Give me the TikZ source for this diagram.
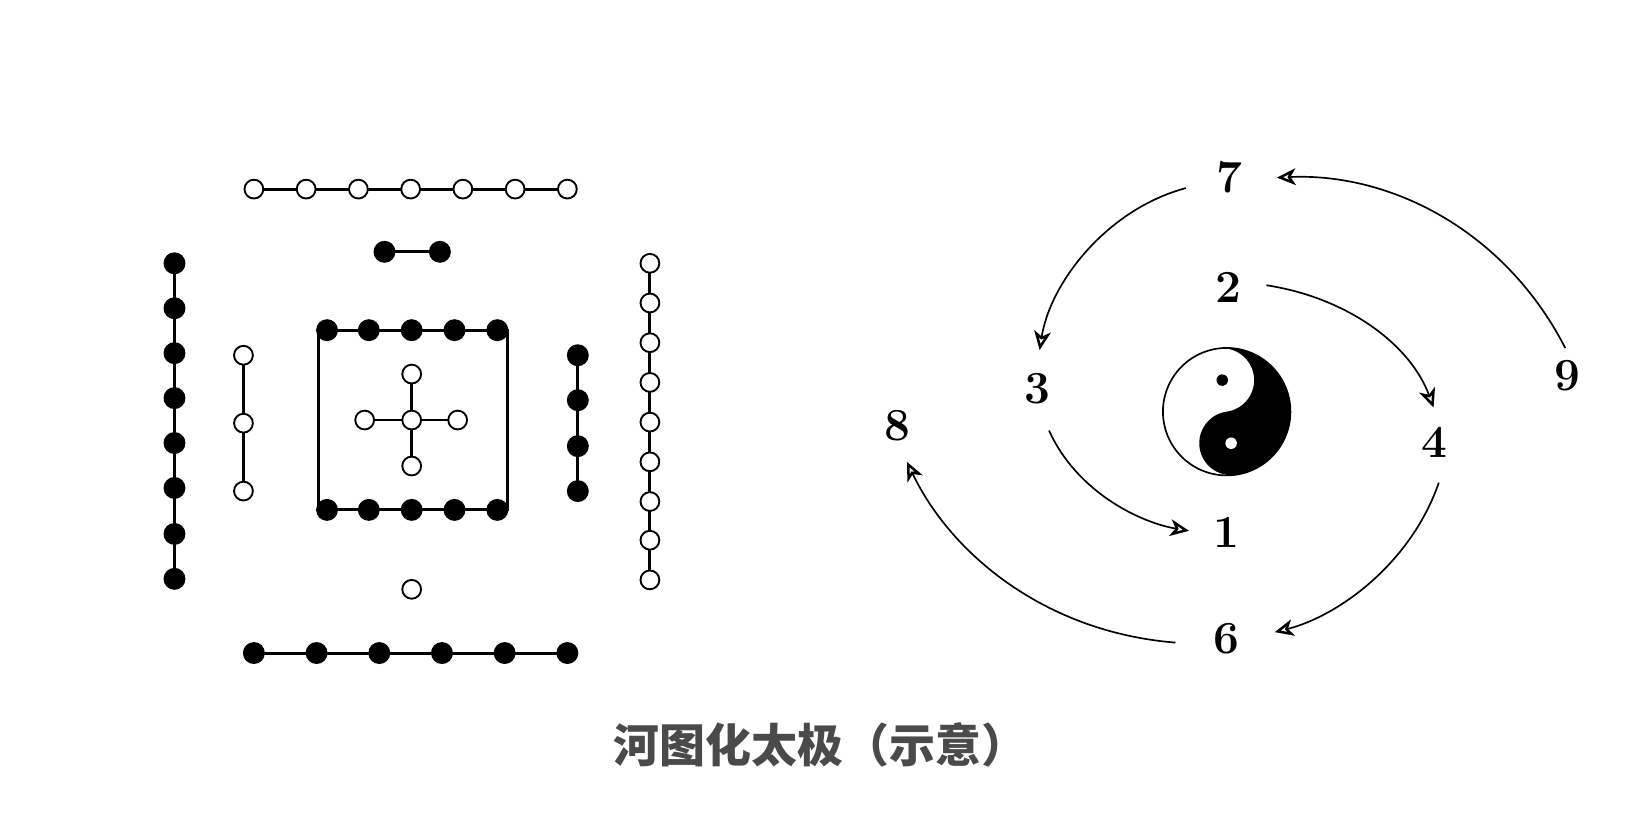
\documentclass[tikz,border=0pt]{standalone}
\usepackage{fontspec}
\newfontfamily\cjk{Noto Sans CJK SC}
\usetikzlibrary{arrows.meta}
\definecolor{titlegray}{HTML}{4A4A4A}
\begin{document}
\begin{tikzpicture}[x=0.5pt,y=-0.5pt,
  ln/.style={line width=1.4pt},
  wd/.style={circle,draw,line width=0.9pt,fill=white,minimum size=9pt,inner sep=0pt},
  bd/.style={circle,fill=black,minimum size=10.5pt,inner sep=0pt},
  num/.style={font=\fontsize{22}{24}\selectfont\bfseries},
  arr/.style={line width=0.8pt,-{Stealth[open,length=9pt,width=8pt,inset=2.5pt,line width=1.2pt]}}]
\useasboundingbox (0,0) rectangle (1560,785);
% top open row
\draw[ln] (243,181) -- (543,181);
\foreach \x [count=\i] in {243,293,343,393,443,493,543} \node[wd] (t\i) at (\x,181) {};
% pair
\draw[ln] (368,241) -- (421,241);
\node[bd] (p1) at (368,241) {}; \node[bd] (p2) at (421,241) {};
% left filled column
\draw[ln] (167,252) -- (167,554);
\foreach \y [count=\i] in {252,295,338,381,424,467,511,554} \node[bd] (l\i) at (167,\y) {};
% small open column
\draw[ln] (233,340) -- (233,470);
\foreach \y [count=\i] in {340,405,470} \node[wd] (s\i) at (233,\y) {};
% square
\draw[ln] (305,316) rectangle (486,488);
\foreach \x [count=\i] in {313,353,394,435,476} {\node[bd] (qa\i) at (\x,316) {}; \node[bd] (qb\i) at (\x,488) {};}
% cross
\draw[ln] (394,358) -- (394,446) (349,402) -- (438,402);
\node[wd] (c0) at (394,402) {};
\node[wd] (c1) at (394,358) {}; \node[wd] (c2) at (394,446) {};
\node[wd] (c3) at (349,402) {}; \node[wd] (c4) at (438,402) {};
% right filled column
\draw[ln] (553,340) -- (553,470);
\foreach \y [count=\i] in {340,383,427,470} \node[bd] (r\i) at (553,\y) {};
% right open column
\draw[ln] (622,252) -- (622,555);
\foreach \y [count=\i] in {252,290,328,366,404,442,480,517,555} \node[wd] (o\i) at (622,\y) {};
% single
\node[wd] (b0) at (394,564) {};
% bottom filled row
\draw[ln] (243,625) -- (543,625);
\foreach \x [count=\i] in {243,303,363,423,483,543} \node[bd] (f\i) at (\x,625) {};
% yin-yang
\begin{scope}[shift={(1174,394)},yscale=-1,rotate=-8]
\fill[black] (0,61) arc[start angle=90,end angle=-90,radius=61]
  arc[start angle=270,end angle=90,radius=30.5]
  arc[start angle=270,end angle=450,radius=30.5] -- cycle;
\draw[line width=0.8pt] (0,0) circle[radius=61];
\fill[black] (0,30.5) circle[radius=5.5];
\fill[white] (0,-30.5) circle[radius=5.5];
\end{scope}
\node[circle,minimum size=61pt,inner sep=0pt] (yy) at (1174,394) {};
% numbers
\node[num] (n7) at (1177,170) {7};
\node[num] (n2) at (1176,275) {2};
\node[num] (n3) at (993,372) {3};
\node[num] (n8) at (859,407) {8};
\node[num] (n9) at (1500,360) {9};
\node[num] (n4) at (1373,423) {4};
\node[num] (n1) at (1174,510) {1};
\node[num] (n6) at (1174,611) {6};
\coordinate (a7s) at (1135,180); \coordinate (a3e) at (995,335);
\coordinate (a9s) at (1498,333); \coordinate (a7e) at (1222,170);
\coordinate (a2s) at (1212,273); \coordinate (a4e) at (1372,390);
\coordinate (a3s) at (1004,412); \coordinate (a1e) at (1138,508);
\coordinate (a4s) at (1377,462); \coordinate (a6e) at (1220,605);
\coordinate (a6s) at (1125,615); \coordinate (a8e) at (868,442);
\draw[arr] (a7s) .. controls (1060,200) and (1005,270) .. (a3e);
\draw[arr] (a9s) .. controls (1440,220) and (1330,165) .. (a7e);
\draw[arr] (a2s) .. controls (1290,285) and (1350,330) .. (a4e);
\draw[arr] (a3s) .. controls (1030,470) and (1090,500) .. (a1e);
\draw[arr] (a4s) .. controls (1350,540) and (1280,590) .. (a6e);
\draw[arr] (a6s) .. controls (1000,605) and (910,530) .. (a8e);
% title
\node[font=\cjk\bfseries\fontsize{22}{24}\selectfont,text=titlegray] (title) at (785,713) {河图化太极（示意）};
\end{tikzpicture}
\end{document}
